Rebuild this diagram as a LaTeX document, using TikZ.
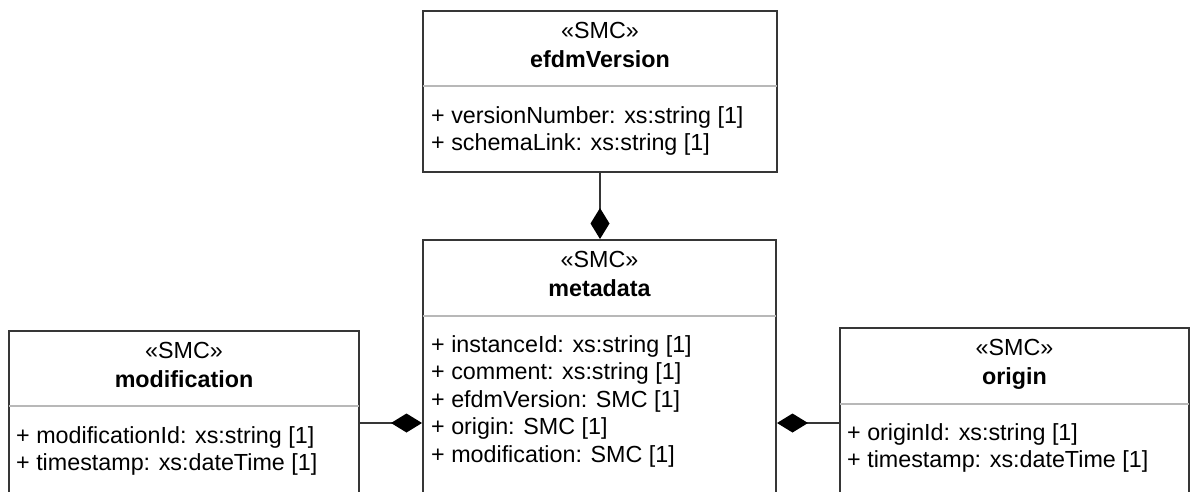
\documentclass[tikz,border=0pt]{standalone}
\usepackage{fontspec}
\setmainfont{Liberation Sans}
\usetikzlibrary{positioning,arrows.meta}
\definecolor{boxline}{HTML}{363636}
\definecolor{sepline}{HTML}{B8B8B8}
\newcommand{\smc}{«SMC»}

\begin{document}
\begin{tikzpicture}[x=1pt,y=-1pt]
                        \tikzstyle{clsbox}=[draw=boxline, line width=2pt, fill=white, anchor=north west, inner sep=0pt, minimum height=400pt]
                        \tikzstyle{stereo}=[anchor=base, inner sep=0pt, font=\fontsize{23.3}{27.5}\selectfont]
                        \tikzstyle{clsname}=[anchor=base, inner sep=0pt, font=\fontsize{23.3}{27.5}\selectfont\bfseries]
                        \tikzstyle{attrs}=[anchor=north west, align=left, inner sep=0pt, font=\fontsize{23.3}{27.6}\selectfont]
                        \tikzstyle{sep}=[draw=sepline, line width=2pt]
                        \tikzstyle{compo}=[draw=boxline, line width=2pt, -{Diamond[length=31pt,width=19pt,black]}]
                        \useasboundingbox (0,0) rectangle (1190,491);
                        \clip (0,0) rectangle (1190,491);
                        \node[clsbox, minimum width=354pt, minimum height=161pt] (ver) at (422,10) {};
                        \node[stereo] (verst) at ([yshift=-28pt]ver.north) {\smc};
                        \node[clsname] (vername) at ([yshift=-57pt]ver.north) {efdmVersion};
                        \draw[sep] ([yshift=-76pt,xshift=1pt]ver.north west) -- ([yshift=-76pt,xshift=-1pt]ver.north east);
                        \node[attrs] (verattr) at ([xshift=9pt,yshift=-96pt]ver.north west) {+ versionNumber: xs:string [1]\\+ schemaLink: xs:string [1]};
                        \node[clsbox, minimum width=353pt] (meta) at (422,239) {};
                        \node[stereo] (metast) at ([yshift=-28pt]meta.north) {\smc};
                        \node[clsname] (metaname) at ([yshift=-57pt]meta.north) {metadata};
                        \draw[sep] ([yshift=-77pt,xshift=1pt]meta.north west) -- ([yshift=-77pt,xshift=-1pt]meta.north east);
                        \node[attrs] (metaattr) at ([xshift=9pt,yshift=-96pt]meta.north west) {+ instanceId: xs:string [1]\\+ comment: xs:string [1]\\+ efdmVersion: SMC [1]\\+ origin: SMC [1]\\+ modification: SMC [1]};
                        \node[clsbox, minimum width=350pt] (mod) at (8,330) {};
                        \node[stereo] (modst) at ([yshift=-28pt]mod.north) {\smc};
                        \node[clsname] (modname) at ([yshift=-57pt]mod.north) {modification};
                        \draw[sep] ([yshift=-76pt,xshift=1pt]mod.north west) -- ([yshift=-76pt,xshift=-1pt]mod.north east);
                        \node[attrs] (modattr) at ([xshift=8pt,yshift=-96pt]mod.north west) {+ modificationId: xs:string [1]\\+ timestamp: xs:dateTime [1]};
                        \node[clsbox, minimum width=349pt] (ori) at (839,327) {};
                        \node[stereo] (orist) at ([yshift=-28pt]ori.north) {\smc};
                        \node[clsname] (oriname) at ([yshift=-57pt]ori.north) {origin};
                        \draw[sep] ([yshift=-77pt,xshift=1pt]ori.north west) -- ([yshift=-77pt,xshift=-1pt]ori.north east);
                        \node[attrs] (oriattr) at ([xshift=8pt,yshift=-96pt]ori.north west) {+ originId: xs:string [1]\\+ timestamp: xs:dateTime [1]};
                        \coordinate (modlink) at ([yshift=-93pt]mod.north east);
                        \coordinate (orilink) at ([yshift=-96pt]ori.north west);
                        \draw[compo] (ver.south) -- (ver.south |- meta.north);
                        \draw[compo] (modlink) -- (modlink -| meta.west);
                        \draw[compo] (orilink) -- (orilink -| meta.east);
                    \end{tikzpicture}
\end{document}
